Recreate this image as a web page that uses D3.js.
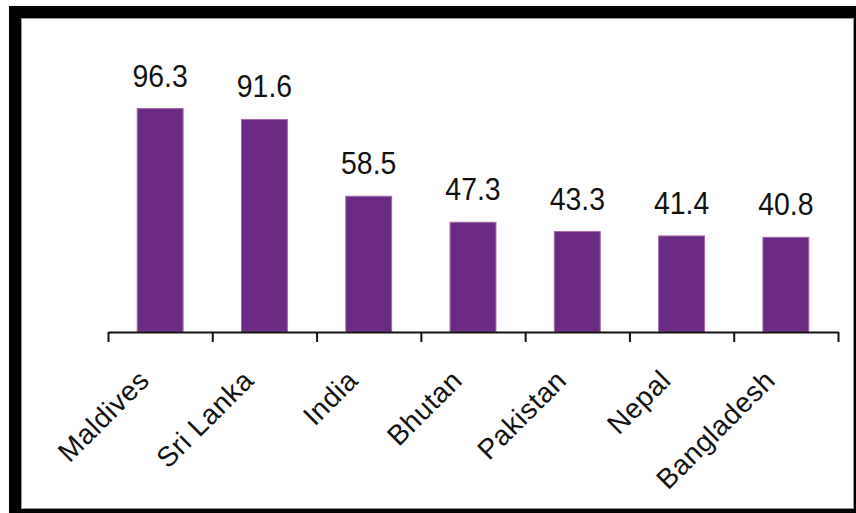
<!DOCTYPE html>
<html>
<head>
<meta charset="utf-8">
<script src="https://cdn.jsdelivr.net/npm/d3@7"></script>
<style>
  html, body { margin: 0; padding: 0; background: #fff; }
  svg { display: block; }
  text { font-family: "Liberation Sans", Arial, sans-serif; fill: #111; }
</style>
</head>
<body>
<svg id="chart" width="856" height="513"></svg>
<script>
const categories = ["Maldives", "Sri Lanka", "India", "Bhutan", "Pakistan", "Nepal", "Bangladesh"];
const values = [96.3, 91.6, 58.5, 47.3, 43.3, 41.4, 40.8];
const labels = ["96.3", "91.6", "58.5", "47.3", "43.3", "41.4", "40.8"];

const svg = d3.select("#chart");

// frame
svg.append("rect").attr("x", 9).attr("y", 6).attr("width", 847).attr("height", 507).attr("fill", "#000");
svg.append("rect").attr("x", 21.5).attr("y", 18.5).attr("width", 832).attr("height", 490)
  .attr("fill", "#fff").attr("stroke", "#999").attr("stroke-width", 1);

const x0 = 108, x1 = 838, baseY = 332;
const x = d3.scaleBand().domain(categories).range([x0, x1]).paddingInner(0.56).paddingOuter(0.28);
const y = d3.scaleLinear().domain([0, 100]).range([baseY, 100]);
const tickScale = d3.scaleLinear().domain([0, categories.length]).range([x0, x1]);

// bars
svg.append("g").selectAll("rect").data(values).join("rect")
  .attr("x", (d, i) => x(categories[i]))
  .attr("y", d => y(d))
  .attr("width", x.bandwidth())
  .attr("height", d => y(0) - y(d))
  .attr("fill", "#6b2a84")
  .attr("stroke", "#a467a8")
  .attr("stroke-width", 1);

// axis
const axis = d3.axisBottom(tickScale)
  .tickValues(d3.range(0, categories.length + 1))
  .tickSize(10).tickSizeOuter(0).tickFormat("");
const ag = svg.append("g").attr("transform", `translate(0,${baseY})`).call(axis);
ag.select(".domain").attr("stroke", "#111").attr("stroke-width", 2);
ag.selectAll(".tick line").attr("stroke", "#111").attr("stroke-width", 2);

// value labels
svg.append("g").selectAll("text").data(values).join("text")
  .attr("transform", (d, i) => `translate(${x(categories[i]) + x.bandwidth() / 2},${y(d) - 22}) scale(0.98,1.1)`)
  .attr("text-anchor", "middle")
  .attr("font-size", 29)
  .text((d, i) => labels[i]);

// category labels
svg.append("g").selectAll("text").data(categories).join("text")
  .attr("transform", d => `translate(${x(d) + x.bandwidth() / 2 - 9},382) rotate(-45)`)
  .attr("text-anchor", "end")
  .attr("font-size", 28)
  .attr("letter-spacing", 0.6)
  .text(d => d);
</script>
</body>
</html>
